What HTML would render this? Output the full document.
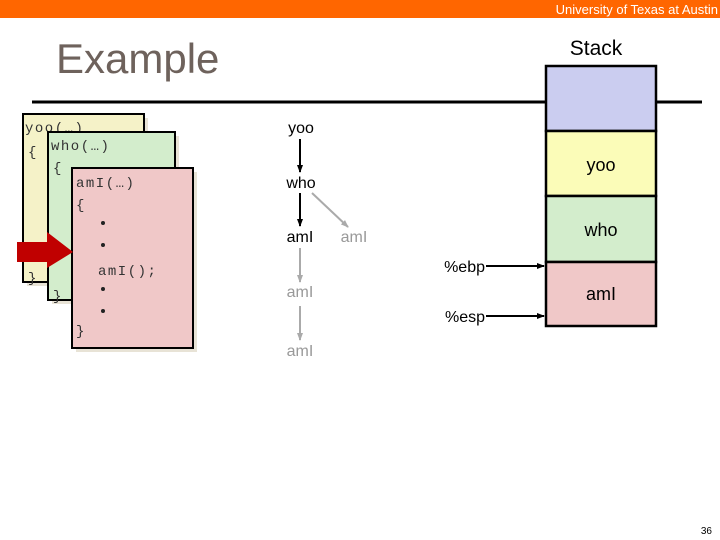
<!DOCTYPE html>
<html><head><meta charset="utf-8"><style>
html,body{margin:0;padding:0;background:#fff;}
svg{display:block;}
</style></head><body>
<svg width="720" height="540" xmlns="http://www.w3.org/2000/svg" font-family="Liberation Sans, sans-serif">
<defs>
<marker id="ab" markerWidth="8" markerHeight="8" refX="7" refY="4" orient="auto" markerUnits="userSpaceOnUse"><path d="M0,1 L8,4 L0,7 z" fill="#000"/></marker>
<marker id="ag" markerWidth="8" markerHeight="8" refX="7" refY="4" orient="auto" markerUnits="userSpaceOnUse"><path d="M0,1 L8,4 L0,7 z" fill="#aaa"/></marker>
</defs>
<rect x="0" y="0" width="720" height="18" fill="#ff6600"/>
<text x="718" y="14" font-size="13" fill="#fff" text-anchor="end">University of Texas at Austin</text>
<text x="56" y="73" font-size="42" fill="#6e625c">Example</text>
<text x="596" y="55" font-size="21" fill="#000" text-anchor="middle">Stack</text>
<line x1="32" y1="102" x2="702" y2="102" stroke="#000" stroke-width="3"/>

<rect x="27" y="118" width="121" height="168" fill="#e8e3d6"/>
<rect x="23" y="114" width="121" height="168" fill="#f5f2c8" stroke="#000" stroke-width="2"/>
<g font-family="Liberation Mono, monospace" font-size="14" fill="#333" letter-spacing="1.5">
<text x="25" y="132">yoo(…)</text>
<text x="28" y="156">{</text>
<text x="28" y="282">}</text>
</g>
<rect x="52" y="136" width="127" height="168" fill="#e8e3d6"/>
<rect x="48" y="132" width="127" height="168" fill="#d3edcc" stroke="#000" stroke-width="2"/>
<g font-family="Liberation Mono, monospace" font-size="14" fill="#333" letter-spacing="1.5">
<text x="51" y="150">who(…)</text>
<text x="53" y="172">{</text>
<text x="53" y="300">}</text>
</g>
<rect x="76" y="172" width="121" height="180" fill="#e8e3d6"/>
<rect x="72" y="168" width="121" height="180" fill="#f0c8c8" stroke="#000" stroke-width="2"/>
<g font-family="Liberation Mono, monospace" font-size="14" fill="#333" letter-spacing="1.5">
<text x="76" y="187">amI(…)</text>
<text x="76" y="209">{</text>
<text x="98" y="275">amI();</text>
<text x="76" y="335">}</text>
</g>
<g fill="#222"><circle cx="103" cy="223" r="2"/><circle cx="103" cy="245" r="2"/><circle cx="103" cy="289" r="2"/><circle cx="103" cy="311" r="2"/></g>
<path d="M17,242 L47,242 L47,232 L73,252 L47,268 L47,262 L17,262 z" fill="#c00000"/>

<g font-size="16" text-anchor="middle">
<text x="301" y="133" fill="#000">yoo</text>
<text x="301" y="188" fill="#000">who</text>
<text x="300" y="242" fill="#000">amI</text>
<text x="300" y="297" fill="#999">amI</text>
<text x="300" y="356" fill="#999">amI</text>
<text x="354" y="242" fill="#999">amI</text>
</g>
<line x1="300" y1="139" x2="300" y2="172" stroke="#000" stroke-width="2" marker-end="url(#ab)"/>
<line x1="300" y1="193" x2="300" y2="226" stroke="#000" stroke-width="2" marker-end="url(#ab)"/>
<line x1="300" y1="248" x2="300" y2="282" stroke="#aaa" stroke-width="2" marker-end="url(#ag)"/>
<line x1="300" y1="306" x2="300" y2="340" stroke="#aaa" stroke-width="2" marker-end="url(#ag)"/>
<line x1="312" y1="193" x2="348" y2="227" stroke="#aaa" stroke-width="2" marker-end="url(#ag)"/>

<rect x="546" y="66" width="110" height="65" fill="#cbcdf0" stroke="#000" stroke-width="2.5"/>
<rect x="546" y="131" width="110" height="65" fill="#fbfcb8" stroke="#000" stroke-width="2.5"/>
<rect x="546" y="196" width="110" height="66" fill="#d3edcc" stroke="#000" stroke-width="2.5"/>
<rect x="546" y="262" width="110" height="64" fill="#f0c8c8" stroke="#000" stroke-width="2.5"/>
<g font-size="18" text-anchor="middle" fill="#000">
<text x="601" y="171">yoo</text>
<text x="601" y="236">who</text>
<text x="601" y="300">amI</text>
</g>
<g font-size="16" fill="#000" text-anchor="end">
<text x="485" y="272">%ebp</text>
<text x="485" y="322">%esp</text>
</g>
<line x1="486" y1="266" x2="544" y2="266" stroke="#000" stroke-width="2" marker-end="url(#ab)"/>
<line x1="486" y1="316" x2="544" y2="316" stroke="#000" stroke-width="2" marker-end="url(#ab)"/>
<text x="712" y="534" font-size="10" fill="#000" text-anchor="end">36</text>
</svg>
</body></html>
